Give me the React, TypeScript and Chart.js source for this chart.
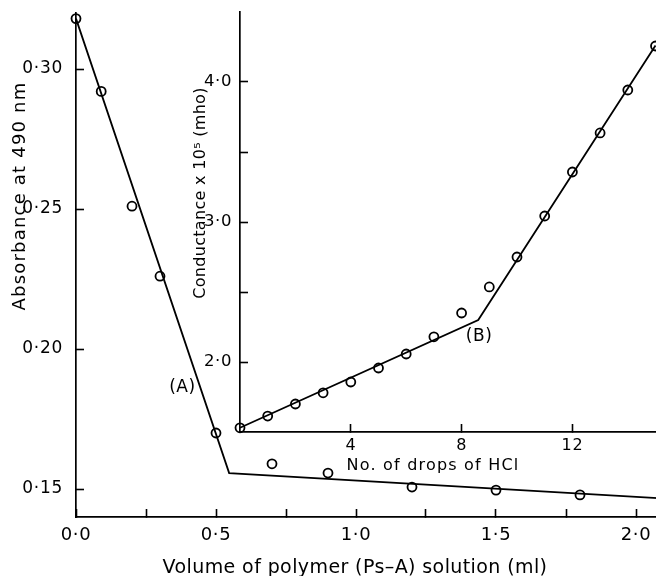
import React, { useEffect, useRef } from "react";
import { Chart, registerables } from "chart.js";

Chart.register(...registerables);

// ---- Main chart: absorbance vs volume of polymer ----
const volumeMl = [0.0, 0.09, 0.2, 0.3, 0.5, 0.7, 0.9, 1.2, 1.5, 1.8];
const absorbance = [0.318, 0.292, 0.251, 0.226, 0.17, 0.159, 0.1557, 0.1507, 0.1496, 0.1479];
const fitAVolume = [0.0, 0.547, 2.2];
const fitAAbsorbance = [0.318, 0.1557, 0.146];
const mainXTicks = [0, 0.25, 0.5, 0.75, 1.0, 1.25, 1.5, 1.75, 2.0];
const mainXLabeled = [0, 0.5, 1.0, 1.5, 2.0];
const mainYTicks = [0.15, 0.2, 0.25, 0.3];

// ---- Inset chart: conductance vs drops of HCl ----
const drops = [0, 1, 2, 3, 4, 5, 6, 7, 8, 9, 10, 11, 12, 13, 14, 15];
const conductance = [1.53, 1.614, 1.7, 1.78, 1.857, 1.957, 2.057, 2.18, 2.35, 2.536, 2.75, 3.043, 3.357, 3.636, 3.943, 4.257];
const fitBDrops = [0, 8.6, 15];
const fitBConductance = [1.53, 2.3, 4.26];
const insetXTicks = [4, 8, 12, 16];
const insetYTicks = [2.0, 2.5, 3.0, 3.5, 4.0];
const insetYLabeled = [2.0, 3.0, 4.0];

const FONT = "'DejaVu Sans', sans-serif";
const fmt = (v: number, d: number) => v.toFixed(d).replace(".", "\u00B7");
const pts = (xs: number[], ys: number[]) => xs.map((x, i) => ({ x, y: ys[i] }));

const freeText = {
  id: "freeText",
  beforeDraw(chart: any, _args: any, opts: any) {
    try {
      chart.ctx.letterSpacing = ((opts && opts.tickSpacing) || 0) + "px";
    } catch (e) {}
  },
  afterDraw(chart: any, _args: any, opts: any) {
    const ctx = chart.ctx;
    for (const it of (opts && opts.items) || []) {
      let x = it.x;
      let y = it.y;
      if (it.data) {
        x = chart.scales.x.getPixelForValue(it.x);
        y = chart.scales.y.getPixelForValue(it.y);
      }
      ctx.save();
      ctx.translate(x, y);
      if (it.rotate) ctx.rotate((it.rotate * Math.PI) / 180);
      ctx.font = it.font;
      try {
        ctx.letterSpacing = (it.spacing || 0) + "px";
      } catch (e) {}
      ctx.fillStyle = "#000";
      ctx.textAlign = "center";
      ctx.textBaseline = it.baseline || "middle";
      ctx.fillText(it.text, 0, 0);
      ctx.restore();
    }
  },
};

const pointDs = (data: any[]) => ({
  data,
  showLine: false,
  pointStyle: "circle",
  pointRadius: 4.5,
  pointBorderWidth: 1.8,
  pointBorderColor: "#000",
  pointBackgroundColor: "rgba(0,0,0,0)",
  clip: false,
});
const lineDs = (data: any[]) => ({
  data,
  showLine: true,
  pointRadius: 0,
  borderColor: "#000",
  borderWidth: 1.8,
  tension: 0,
  clip: false,
});

const axisGrid = { drawOnChartArea: false, drawTicks: true, tickLength: -8, tickColor: "#000", tickWidth: 1.6, color: "#000" };
const axisBorder = { display: true, color: "#000", width: 1.7 };

const fitX = (h: number) => (s: any) => {
  s.height = h;
  s.paddingLeft = 0;
  s.paddingRight = 0;
};
const fitY = (w: number) => (s: any) => {
  s.width = w;
  s.paddingTop = 0;
  s.paddingBottom = 0;
};

export default function App() {
  const mainRef = useRef<HTMLCanvasElement | null>(null);
  const insetRef = useRef<HTMLCanvasElement | null>(null);

  useEffect(() => {
    const main = new Chart(mainRef.current as HTMLCanvasElement, {
      type: "scatter",
      data: {
        datasets: [pointDs(pts(volumeMl, absorbance)) as any, lineDs(pts(fitAVolume, fitAAbsorbance)) as any],
      },
      options: {
        animation: false,
        responsive: true,
        maintainAspectRatio: false,
        layout: { padding: { left: 0, top: 13, right: 8, bottom: 0 } },
        plugins: {
          legend: { display: false },
          tooltip: { enabled: false },
          freeText: {
            tickSpacing: 0.7,
            items: [
              { text: "Absorbance at 490 nm", x: 25, y: 196, rotate: -90, baseline: "alphabetic", font: `18px ${FONT}`, spacing: 1.2 },
              { text: "Volume of polymer (Ps\u2013A) solution (ml)", x: 355, y: 568, font: `19px ${FONT}`, spacing: 0.4 },
              { text: "(A)", x: 0.38, y: 0.1864, data: true, font: `17px ${FONT}`, spacing: 0.5 },
            ],
          },
        } as any,
        scales: {
          x: {
            type: "linear",
            min: 0,
            max: 2.2,
            afterBuildTicks: (s: any) => {
              s.ticks = mainXTicks.map((v) => ({ value: v }));
            },
            afterFit: fitX(59),
            grid: axisGrid,
            border: axisBorder,
            ticks: {
              padding: 16,
              color: "#000",
              autoSkip: false,
              maxRotation: 0,
              font: { family: FONT, size: 18 },
              callback: (v: any) => (mainXLabeled.includes(v) ? fmt(v, 1) : ""),
            },
          },
          y: {
            type: "linear",
            min: 0.14,
            max: 0.32,
            afterBuildTicks: (s: any) => {
              s.ticks = mainYTicks.map((v) => ({ value: v }));
            },
            afterFit: fitY(76),
            grid: axisGrid,
            border: axisBorder,
            ticks: {
              padding: 21,
              color: "#000",
              autoSkip: false,
              font: { family: FONT, size: 17 },
              callback: (v: any) => fmt(v, 2),
            },
          },
        } as any,
      },
      plugins: [freeText as any],
    });

    const inset = new Chart(insetRef.current as HTMLCanvasElement, {
      type: "scatter",
      data: {
        datasets: [pointDs(pts(drops, conductance)) as any, lineDs(pts(fitBDrops, fitBConductance)) as any],
      },
      options: {
        animation: false,
        responsive: true,
        maintainAspectRatio: false,
        layout: { padding: { left: 150, top: 12, right: 16.8, bottom: 100 } },
        plugins: {
          legend: { display: false },
          tooltip: { enabled: false },
          freeText: {
            tickSpacing: 0.6,
            items: [
              { text: "Conductance x 10\u2075 (mho)", x: 201, y: 193, rotate: -90, font: `16px ${FONT}`, spacing: 0.3 },
              { text: "No. of drops of HCl", x: 433, y: 466, font: `16px ${FONT}`, spacing: 1.2 },
              { text: "(B)", x: 8.63, y: 2.18, data: true, font: `17px ${FONT}`, spacing: 0.5 },
            ],
          },
        } as any,
        scales: {
          x: {
            type: "linear",
            min: 0,
            max: 16,
            afterBuildTicks: (s: any) => {
              s.ticks = insetXTicks.map((v) => ({ value: v }));
            },
            afterFit: fitX(44),
            grid: axisGrid,
            border: axisBorder,
            ticks: {
              padding: 12,
              color: "#000",
              autoSkip: false,
              maxRotation: 0,
              font: { family: FONT, size: 16 },
              callback: (v: any) => String(v),
            },
          },
          y: {
            type: "linear",
            min: 1.5,
            max: 4.5,
            afterBuildTicks: (s: any) => {
              s.ticks = insetYTicks.map((v) => ({ value: v }));
            },
            afterFit: fitY(90),
            grid: axisGrid,
            border: axisBorder,
            ticks: {
              padding: 16,
              color: "#000",
              autoSkip: false,
              font: { family: FONT, size: 16.5 },
              callback: (v: any) => (insetYLabeled.includes(v) ? fmt(v, 1) : ""),
            },
          },
        } as any,
      },
      plugins: [freeText as any],
    });

    return () => {
      main.destroy();
      inset.destroy();
    };
  }, []);

  return (
    <div
      style={{
        position: "absolute",
        left: 0,
        top: 0,
        width: 656,
        height: 576,
        overflow: "hidden",
        background: "#fff",
      }}
    >
      <div style={{ position: "absolute", left: 0, top: 0, width: 700, height: 576 }}>
        <canvas ref={mainRef} />
      </div>
      <div style={{ position: "absolute", left: 0, top: 0, width: 700, height: 576 }}>
        <canvas ref={insetRef} />
      </div>
    </div>
  );
}
